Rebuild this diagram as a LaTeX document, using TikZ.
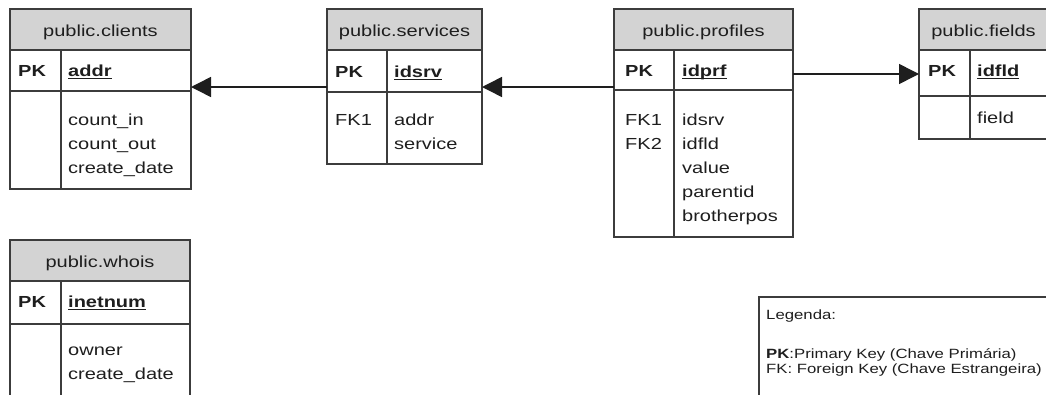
\documentclass[tikz,border=0pt]{standalone}
\usepackage{fontspec}
\setmainfont{Liberation Sans}[FakeStretch=1.25]
\usetikzlibrary{arrows.meta,fit}

\definecolor{rulegray}{HTML}{3C3C3C}
\definecolor{headfill}{HTML}{D3D3D3}
\definecolor{ink}{HTML}{1E1E1E}

\newcommand\tabfont{\fontsize{16}{24}\selectfont}
\newcommand\legfont{\fontsize{13.4}{16}\selectfont}
% bold key name with a thick rule a little below the baseline
\newsavebox\keybox
\newcommand\keyname[1]{%
  \sbox\keybox{\textbf{#1}}%
  \rlap{\rule[-2.8pt]{\wd\keybox}{1.3pt}}\usebox\keybox}

\tikzset{
  tablebox/.style={draw=rulegray, line width=1.6pt, fill=white, inner sep=0pt, outer sep=0pt},
  headbox/.style={draw=rulegray, line width=1.6pt, fill=headfill, inner sep=0pt, outer sep=0pt},
  rulestyle/.style={draw=rulegray, line width=1.6pt},
  celltext/.style={anchor=base west, inner sep=0pt, text=ink, font=\tabfont},
  titletext/.style={anchor=base, inner sep=0pt, text=ink, font=\tabfont},
  legtext/.style={anchor=base west, inner sep=0pt, text=ink, font=\legfont},
  fkarrow/.style={draw=ink, line width=1.5pt, -{Triangle[length=20pt,width=20pt]}}
}

% one table frame: name, left, right, top, header bottom, key-row bottom, bottom, divider x, title
\newcommand\ertable[9]{%
  \node[tablebox, fit={(#2,#4) (#3,#7)}] (#1) {};
  \node[headbox, fit={(#2,#4) (#3,#5)}] (#1-head) {};
  \draw[rulestyle] (#2,#6) -- (#3,#6);
  \draw[rulestyle] (#8,#5) -- (#8,#7);
  \node[titletext] (#1-title) at ({(#2+#3)/2},{#5-14}) {#9};
}

% a column of attribute names: name prefix, x, first baseline, list
\newcommand\attrlist[4]{%
  \foreach \t [count=\i from 0] in {#4} {
    \node[celltext] (#1-\i) at (#2,{#3+\i*24.2}) {\t};
  }
}

\begin{document}
\begin{tikzpicture}[x=1pt, y=-1pt]
  \useasboundingbox (0,0) rectangle (1046,394);
  \clip (0,0) rectangle (1046,394);

  % tables
  \ertable{clients}{10}{191}{9}{50}{91}{189}{61}{public.clients}
  \ertable{services}{327}{482}{9}{50}{92}{164}{387}{public.services}
  \ertable{profiles}{614}{793}{9}{50}{90}{237}{674}{public.profiles}
  \ertable{fields}{919}{1048}{9}{50}{96}{139}{970}{public.fields}
  \ertable{whois}{10}{190}{240}{281}{324}{412}{61}{public.whois}

  % public.clients
  \node[celltext] (clients-pk) at (18,76.5) {\textbf{PK}};
  \node[celltext] (clients-key) at (68,76.5) {\keyname{addr}};
  \attrlist{clients-a}{68}{125}{count\_in,count\_out,create\_date}

  % public.services
  \node[celltext] (services-pk) at (335,77) {\textbf{PK}};
  \node[celltext] (services-key) at (394,77) {\keyname{idsrv}};
  \attrlist{services-f}{335}{125}{FK1}
  \attrlist{services-a}{394}{125}{addr,service}

  % public.profiles
  \node[celltext] (profiles-pk) at (625,76) {\textbf{PK}};
  \node[celltext] (profiles-key) at (682,76) {\keyname{idprf}};
  \attrlist{profiles-f}{625}{125}{FK1,FK2}
  \attrlist{profiles-a}{682}{125}{idsrv,idfld,value,parentid,brotherpos}

  % public.fields
  \node[celltext] (fields-pk) at (928,76) {\textbf{PK}};
  \node[celltext] (fields-key) at (977,76) {\keyname{idfld}};
  \attrlist{fields-a}{977}{123}{field}

  % public.whois
  \node[celltext] (whois-pk) at (18,307) {\textbf{PK}};
  \node[celltext] (whois-key) at (68,307) {\keyname{inetnum}};
  \attrlist{whois-a}{68}{355}{owner,create\_date}

  % foreign-key links
  \coordinate (lowlink) at (0,87);
  \coordinate (fieldlink) at (0,74);
  \draw[fkarrow] (services.west |- lowlink) -- (clients.east |- lowlink);
  \draw[fkarrow] (profiles.west |- lowlink) -- (services.east |- lowlink);
  \draw[fkarrow] (profiles.east |- fieldlink) -- (fields.west |- fieldlink);

  % legend
  \node[tablebox, line width=1.2pt, fit={(759,297) (1062,412)}] (legend) {};
  \node[legtext] (legend-title) at (766,319) {Legenda:};
  \node[legtext] (legend-pk) at (766,358) {\textbf{PK}:Primary Key (Chave Primária)};
  \node[legtext] (legend-fk) at (766,373) {FK: Foreign Key (Chave Estrangeira)};
\end{tikzpicture}
\end{document}
